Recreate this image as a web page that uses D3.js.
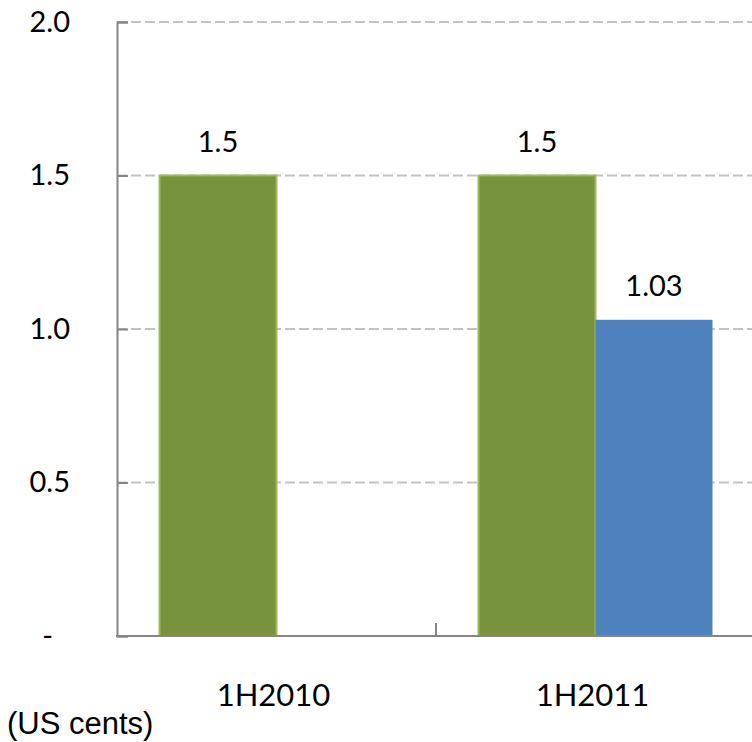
<!DOCTYPE html>
<html>
<head>
<meta charset="utf-8">
<script src="https://cdn.jsdelivr.net/npm/d3@7/dist/d3.min.js"></script>
<style>
  html, body { margin: 0; padding: 0; background: #fff; }
  svg { display: block; }
</style>
</head>
<body>
<svg id="chart" width="752" height="742"></svg>
<script>
// Half-year dividend per share, US cents
const categories = ["1H2010", "1H2011"];
const seriesNames = ["Interim", "Special"];
const interimValues = [1.5, 1.5];
const specialValues = [null, 1.03];
const valueLabels = [["1.5", "1.5"], [null, "1.03"]];
const yTickValues = [0, 0.5, 1.0, 1.5, 2.0];
const yTickLabels = ["-", "0.5", "1.0", "1.5", "2.0"];
const unitLabel = "(US cents)";

const seriesValues = [interimValues, specialValues];
const seriesFill = ["#77933C", "#4F81BD"];
const seriesStroke = ["#9BBB59", "none"];

const svg = d3.select("#chart");
const plotLeft = 117, plotRight = 755, plotTop = 22, plotBottom = 636;

const x = d3.scaleBand()
  .domain(categories)
  .range([plotLeft, plotRight])
  .paddingInner(0.2665)
  .paddingOuter(0.1333);

const xs = d3.scaleBand()
  .domain(seriesNames)
  .range([0, x.bandwidth()]);

const y = d3.scaleLinear().domain([0, 2]).range([plotBottom, plotTop]);

// dashed horizontal gridlines
svg.append("g")
  .selectAll("line")
  .data(yTickValues.filter(v => v > 0))
  .join("line")
  .attr("x1", plotLeft).attr("x2", 752)
  .attr("y1", d => y(d)).attr("y2", d => y(d))
  .attr("stroke", "#C3C3C3")
  .attr("stroke-width", 2)
  .attr("stroke-dasharray", "10,4");

// bars
seriesNames.forEach((s, si) => {
  const rows = categories.map((c, ci) => ({ c, v: seriesValues[si][ci], label: valueLabels[si][ci] }))
    .filter(d => d.v != null);
  const g = svg.append("g");
  g.selectAll("rect")
    .data(rows)
    .join("rect")
    .attr("x", d => x(d.c) + xs(s))
    .attr("y", d => y(d.v))
    .attr("width", xs.bandwidth())
    .attr("height", d => y(0) - y(d.v))
    .attr("fill", seriesFill[si])
    .attr("stroke", seriesStroke[si])
    .attr("stroke-width", 2);
  g.selectAll("text")
    .data(rows)
    .join("text")
    .attr("x", d => x(d.c) + xs(s) + xs.bandwidth() / 2)
    .attr("y", d => y(d.v) - 24)
    .attr("text-anchor", "middle")
    .attr("font-family", "Lato, sans-serif")
    .attr("font-size", 29)
    .attr("fill", "#000")
    .text(d => d.label);
});

// y axis
const yAxis = d3.axisLeft(y)
  .tickValues(yTickValues)
  .tickFormat((d, i) => yTickLabels[i])
  .tickSize(-11)
  .tickPadding(58);
const ya = svg.append("g").attr("transform", `translate(${plotLeft},0)`).call(yAxis);
ya.select(".domain").attr("stroke", "#868686").attr("stroke-width", 2);
ya.selectAll(".tick line").attr("stroke", "#868686").attr("stroke-width", 2);
ya.selectAll(".tick text")
  .attr("font-family", "Lato, sans-serif")
  .attr("font-size", 29)
  .attr("fill", "#000")
  .attr("dx", d => d === 0 ? -6 : 11);

// x axis baseline with a divider tick between categories
const xa = svg.append("g");
const dividerX = (x(categories[0]) + x.bandwidth() + x(categories[1])) / 2;
xa.append("line")
  .attr("x1", plotLeft - 1).attr("x2", 752)
  .attr("y1", plotBottom).attr("y2", plotBottom)
  .attr("stroke", "#868686").attr("stroke-width", 2);
xa.append("line")
  .attr("x1", dividerX).attr("x2", dividerX)
  .attr("y1", plotBottom).attr("y2", plotBottom - 13)
  .attr("stroke", "#868686").attr("stroke-width", 2);
xa.selectAll("text")
  .data(categories)
  .join("text")
  .attr("x", d => x(d) + x.bandwidth() / 2 - 3)
  .attr("y", 706)
  .attr("text-anchor", "middle")
  .attr("font-family", "Lato, sans-serif")
  .attr("font-size", 31)
  .attr("fill", "#000")
  .text(d => d);

svg.append("text")
  .attr("x", 7)
  .attr("y", 734)
  .attr("font-family", "'Liberation Sans', Arial, sans-serif")
  .attr("font-size", 31)
  .attr("fill", "#000")
  .text(unitLabel);
</script>
</body>
</html>
